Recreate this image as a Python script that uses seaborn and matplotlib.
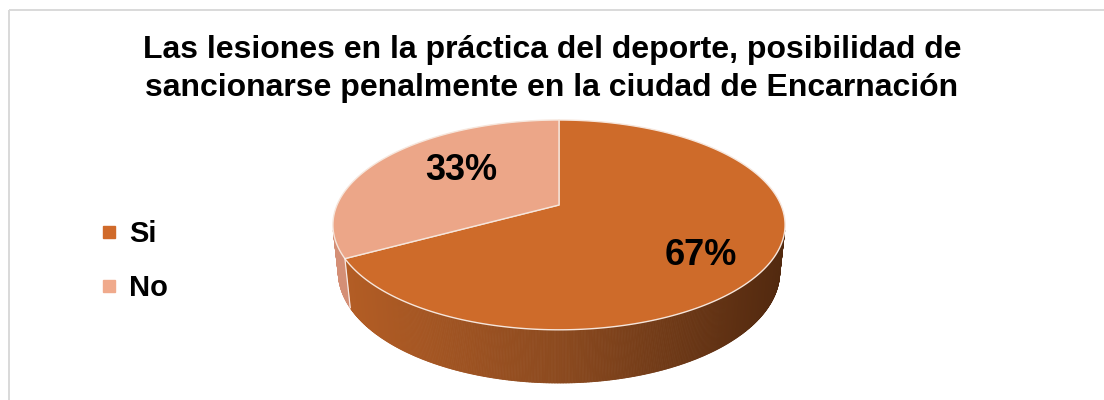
import numpy as np
import matplotlib
matplotlib.use("Agg")
import matplotlib.pyplot as plt
import seaborn as sns
from matplotlib.collections import PolyCollection
from matplotlib.patches import Polygon, Rectangle
from matplotlib.lines import Line2D
from matplotlib.colors import LinearSegmentedColormap, to_rgb

# ---------------- data ----------------
categories = ["Si", "No"]
values = [67, 33]
label_texts = ["67%", "33%"]
title_text = ("Las lesiones en la práctica del deporte, posibilidad de\n"
              "sancionarse penalmente en la ciudad de Encarnación")

# ---------------- style ----------------
top_colors = ["#CE6B2A", "#ECA688"]
legend_colors = ["#D06A2A", "#F0AA8C"]
side_no_color = "#D48F76"
side_si_cmap = LinearSegmentedColormap.from_list(
    "side", ["#B55E25", "#8C4A1F", "#52290F"])

sns.set_theme(style="white")
plt.rcParams['font.family'] = ['Liberation Sans', 'DejaVu Sans']
plt.rcParams['text.color'] = 'black'

fig = plt.figure(figsize=(11.04, 4), dpi=100)
ax = fig.add_axes([0, 0, 1, 1])
ax.set_xlim(0, 1104)
ax.set_ylim(400, 0)
ax.axis('off')

# chart frame
ax.add_patch(Rectangle((8.5, 9.5), 1110, 420, fill=False,
                       edgecolor="#D9D9D9", lw=1.4))

# ---------------- 3D projection parameters ----------------
CX, CY = 559.0, 205.0
K = 1041.0
DIST = 4.69
ELEV = np.deg2rad(27.1)
H = 0.239
se, ce = np.sin(ELEV), np.cos(ELEV)


def proj(theta_deg, r=1.0, h=0.0):
    t = np.deg2rad(theta_deg)
    X = r * np.sin(t)
    Z = -r * np.cos(t)
    depth = DIST - Z * ce + h * se
    up = -(Z * se + h * ce)
    return CX + K * X / depth, CY - K * up / depth


vals = np.asarray(values, dtype=float)
fracs = vals / vals.sum()
starts = np.concatenate([[0.0], np.cumsum(fracs)[:-1]]) * 360.0
ends = np.cumsum(fracs) * 360.0

# visible side range (silhouette of the cylinder)
zsil = 1.0 / (DIST * ce)
th_lo = np.degrees(np.arccos(-zsil))
th_hi = 360.0 - th_lo

# ---------------- side walls ----------------
xl, _ = proj(th_hi)
xr, _ = proj(th_lo)
polys, cols = [], []
for i, (a0, a1) in enumerate(zip(starts, ends)):
    lo, hi = max(a0, th_lo), min(a1, th_hi)
    if hi <= lo:
        continue
    ths = np.linspace(lo, hi, int((hi - lo) * 3) + 2)
    for t0, t1 in zip(ths[:-1], ths[1:]):
        x0, y0 = proj(t0)
        x1, y1 = proj(t1)
        x2, y2 = proj(t1, h=H)
        x3, y3 = proj(t0, h=H)
        polys.append([(x0, y0), (x1, y1), (x2, y2), (x3, y3)])
        if i == 0:
            u = ((x0 + x1) / 2 - xl) / (xr - xl)
            cols.append(side_si_cmap(np.clip(u, 0, 1)))
        else:
            cols.append(to_rgb(side_no_color))
pc = PolyCollection(polys, facecolors=cols, edgecolors=cols, linewidths=0.6)
ax.add_collection(pc)

# divider on side between slices
for a in starts[1:]:
    if th_lo < a < th_hi:
        xa, ya = proj(a)
        xb, yb = proj(a, h=H)
        ax.plot([xa, xb], [ya, yb], color="white", lw=0.9, alpha=0.8)

# ---------------- top face ----------------
for i, (a0, a1) in enumerate(zip(starts, ends)):
    ths = np.linspace(a0, a1, 300)
    xs, ys = proj(ths)
    pts = [(CX, CY)] + list(zip(xs, ys))
    ax.add_patch(Polygon(pts, closed=True, facecolor=top_colors[i],
                         edgecolor="#F6E6DC", lw=1.0, joinstyle="round"))

# ---------------- data labels ----------------
label_r = [0.74, 0.60]
label_shift = 7.5
for i, (a0, a1) in enumerate(zip(starts, ends)):
    lx, ly = proj((a0 + a1) / 2 + label_shift, r=label_r[i])
    ax.text(lx, ly, label_texts[i], ha="center", va="center",
            fontsize=26, fontweight="bold", color="black")

# ---------------- title ----------------
fig.text(0.5, 1 - 35 / 400, title_text, ha="center", va="top",
         fontsize=23, fontweight="bold", color="black", linespacing=1.34)

# ---------------- legend ----------------
handles = [Line2D([], [], marker="s", ls="", color=c, markersize=8.5)
           for c in legend_colors]
leg = ax.legend(handles, categories, loc="center left",
                bbox_to_anchor=(100 / 1104, 1 - 261 / 400),
                frameon=False, prop={"weight": "bold", "size": 21},
                handlelength=0.6, handletextpad=0.4, borderpad=0,
                borderaxespad=0, labelspacing=0.9)
for t in leg.get_texts():
    t.set_color("black")

fig.savefig("out.png", dpi=100)
